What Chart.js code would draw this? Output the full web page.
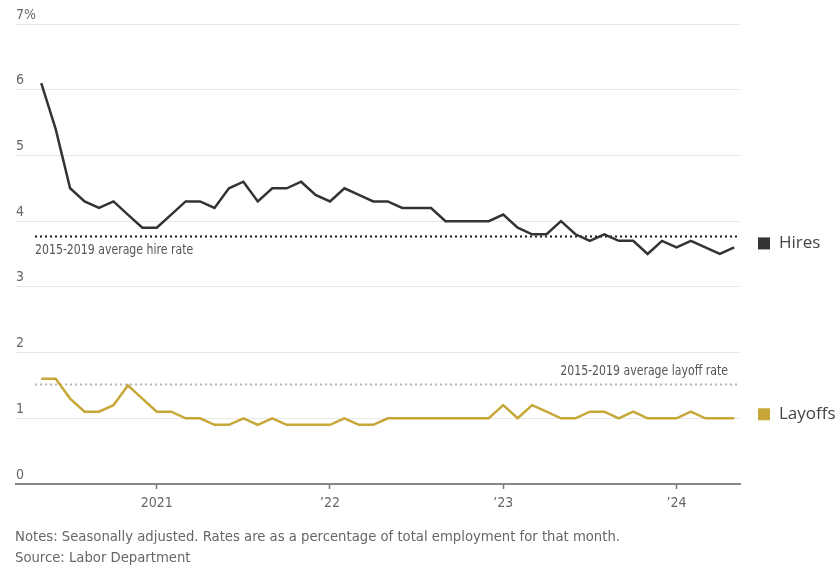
<!DOCTYPE html>
<html lang="en">
<head>
<meta charset="utf-8">
<title>Hires and layoffs rate</title>
<script src="https://cdn.jsdelivr.net/npm/chart.js@4.4.1/dist/chart.umd.min.js"></script>
<style>
  html, body { margin: 0; padding: 0; background: #fff; }
  #wrap { position: relative; width: 839px; height: 567px; }
  #notes {
    position: absolute; left: 15px; top: 525px;
    font-family: "Liberation Sans Narrow", "DejaVu Sans Condensed", sans-serif;
    font-size: 14.7px; line-height: 21px; color: #666;
  }
</style>
</head>
<body>
<div id="wrap">
  <canvas id="chart" width="839" height="567"></canvas>
  <div id="notes">Notes: Seasonally adjusted. Rates are as a percentage of total employment for that month.<br>Source: Labor Department</div>
</div>
<script>
// monthly, May 2020 - May 2024
var months = [
  '2020-05','2020-06','2020-07','2020-08','2020-09','2020-10','2020-11','2020-12',
  '2021-01','2021-02','2021-03','2021-04','2021-05','2021-06','2021-07','2021-08','2021-09','2021-10','2021-11','2021-12',
  '2022-01','2022-02','2022-03','2022-04','2022-05','2022-06','2022-07','2022-08','2022-09','2022-10','2022-11','2022-12',
  '2023-01','2023-02','2023-03','2023-04','2023-05','2023-06','2023-07','2023-08','2023-09','2023-10','2023-11','2023-12',
  '2024-01','2024-02','2024-03','2024-04','2024-05'
];
var hires = [
  6.1, 5.4, 4.5, 4.3, 4.2, 4.3, 4.1, 3.9,
  3.9, 4.1, 4.3, 4.3, 4.2, 4.5, 4.6, 4.3, 4.5, 4.5, 4.6, 4.4,
  4.3, 4.5, 4.4, 4.3, 4.3, 4.2, 4.2, 4.2, 4.0, 4.0, 4.0, 4.0,
  4.1, 3.9, 3.8, 3.8, 4.0, 3.8, 3.7, 3.8, 3.7, 3.7, 3.5, 3.7,
  3.6, 3.7, 3.6, 3.5, 3.6
];
var layoffs = [
  1.6, 1.6, 1.3, 1.1, 1.1, 1.2, 1.5, 1.3,
  1.1, 1.1, 1.0, 1.0, 0.9, 0.9, 1.0, 0.9, 1.0, 0.9, 0.9, 0.9,
  0.9, 1.0, 0.9, 0.9, 1.0, 1.0, 1.0, 1.0, 1.0, 1.0, 1.0, 1.0,
  1.2, 1.0, 1.2, 1.1, 1.0, 1.0, 1.1, 1.1, 1.0, 1.1, 1.0, 1.0,
  1.0, 1.1, 1.0, 1.0, 1.0
];
var hireAvg = 3.77;    // 2015-2019 average hire rate
var layoffAvg = 1.52;  // 2015-2019 average layoff rate
var yearTicks = ['2021-01', '2022-01', '2023-01', '2024-01'];
var yearLabels = ['2021', '\u201922', '\u201923', '\u201924'];
var yTicks = [0, 1, 2, 3, 4, 5, 6, 7];

var narrow = '"Liberation Sans Narrow", "DejaVu Sans Condensed", sans-serif';
var hireColor = '#333333';
var layoffColor = '#c6a737';

function pts(values) {
  return values.map(function (v, i) { return {x: i, y: v}; });
}
var yearIdx = yearTicks.map(function (m) { return months.indexOf(m); });

// squeezed text, to get closer to the narrow face of the original
function narrowText(ctx, txt, x, y, align) {
  ctx.save();
  ctx.translate(x, y);
  ctx.scale(0.87, 1);
  ctx.textAlign = align;
  ctx.fillText(txt, 0, 0);
  ctx.restore();
}

// dotted average lines, their notes and the end-of-line legend
var extras = {
  id: 'extras',
  beforeDatasetsDraw: function (chart) {
    var ctx = chart.ctx, a = chart.chartArea, y = chart.scales.y;
    ctx.save();
    ctx.lineWidth = 2;
    ctx.setLineDash([2, 3]);
    ctx.strokeStyle = '#1a1a1a';
    var yh = Math.round(y.getPixelForValue(hireAvg)) + 0.5;
    ctx.beginPath(); ctx.moveTo(a.left + 19, yh); ctx.lineTo(a.right, yh); ctx.stroke();
    ctx.strokeStyle = '#b5b5b5';
    var yl = Math.round(y.getPixelForValue(layoffAvg)) + 0.5;
    ctx.beginPath(); ctx.moveTo(a.left + 19, yl); ctx.lineTo(a.right, yl); ctx.stroke();
    ctx.setLineDash([]);

    ctx.font = '14px ' + narrow;
    ctx.fillStyle = '#555';
    ctx.textBaseline = 'alphabetic';
    narrowText(ctx, '2015-2019 average hire rate', a.left + 19, yh + 17, 'left');
    narrowText(ctx, '2015-2019 average layoff rate', a.right - 12, yl - 10, 'right');
    ctx.restore();
  },
  afterDraw: function (chart) {
    var ctx = chart.ctx, a = chart.chartArea;
    ctx.save();
    ctx.font = '17px "Open Sans", sans-serif';
    ctx.textBaseline = 'middle';
    ctx.textAlign = 'left';
    chart.data.datasets.forEach(function (ds, i) {
      var meta = chart.getDatasetMeta(i);
      var last = meta.data[meta.data.length - 1];
      var cy = last.y - 4;
      ctx.fillStyle = ds.borderColor;
      ctx.fillRect(a.right + 18, cy - 6, 12, 12);
      ctx.fillStyle = '#444';
      ctx.fillText(ds.label, a.right + 39, cy);
    });
    ctx.restore();
  }
};

new Chart(document.getElementById('chart'), {
  type: 'line',
  data: {
    datasets: [
      {label: 'Hires', data: pts(hires), borderColor: hireColor, borderWidth: 2.5, pointRadius: 0, tension: 0},
      {label: 'Layoffs', data: pts(layoffs), borderColor: layoffColor, borderWidth: 2.5, pointRadius: 0, tension: 0}
    ]
  },
  options: {
    responsive: false,
    animation: false,
    events: [],
    layout: {padding: {left: 16, right: 99, top: 24, bottom: 43}},
    plugins: {legend: {display: false}, tooltip: {enabled: false}},
    scales: {
      x: {
        type: 'linear',
        min: -1.75,
        max: 48.4,
        afterBuildTicks: function (s) {
          s.ticks = yearIdx.map(function (v) { return {value: v}; });
        },
        afterFit: function (s) { s.height = 40; },
        grid: {display: true, drawOnChartArea: false, drawTicks: true, tickLength: 5, tickColor: '#777', tickWidth: 1.5},
        border: {display: true, color: '#888', width: 2},
        ticks: {
          autoSkip: false,
          maxRotation: 0,
          padding: 6,
          color: '#666',
          font: {family: narrow, size: 14},
          callback: function (v) { return yearLabels[yearIdx.indexOf(v)]; }
        }
      },
      y: {
        min: 0,
        max: 7,
        afterBuildTicks: function (s) {
          s.ticks = yTicks.map(function (v) { return {value: v}; });
        },
        afterFit: function (s) { s.width = 0; },
        grid: {color: '#e8e8e8', lineWidth: 1, drawTicks: false},
        border: {display: false},
        ticks: {
          mirror: true,
          padding: 0,
          labelOffset: -9,
          color: '#666',
          font: {family: narrow, size: 14},
          callback: function (v) { return v === 7 ? '7%' : String(v); }
        }
      }
    }
  },
  plugins: [extras]
});
</script>
</body>
</html>
